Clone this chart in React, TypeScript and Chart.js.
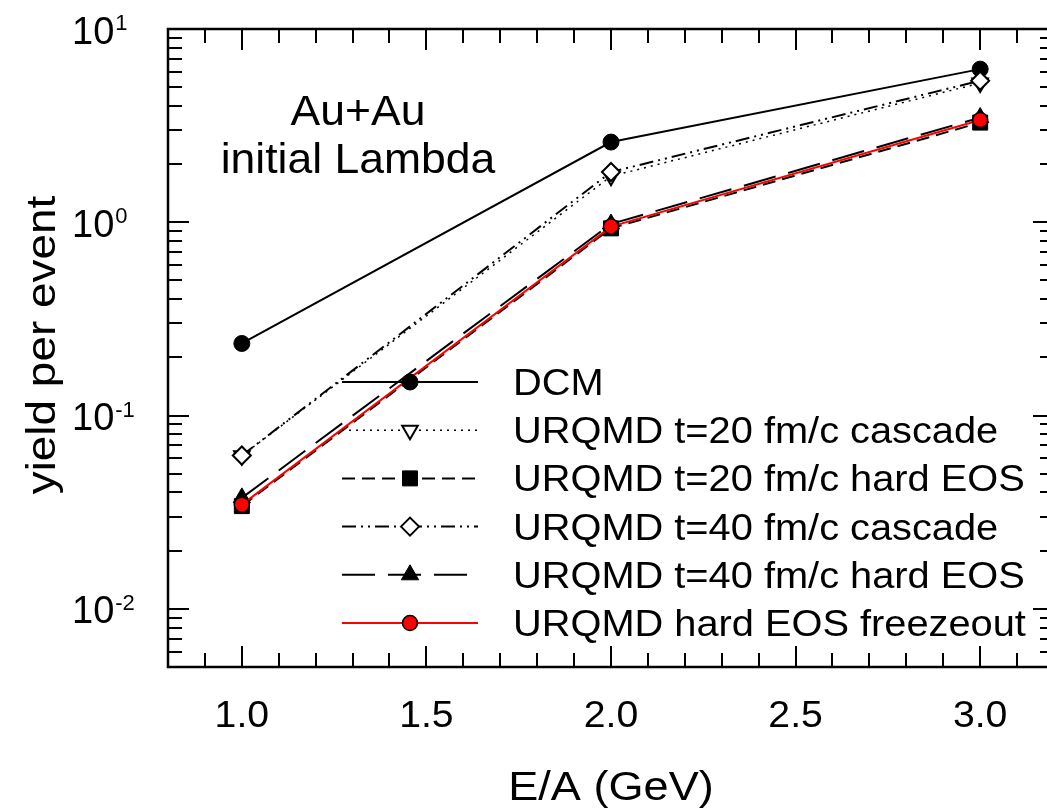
import React, { useEffect, useRef } from 'react';
import { Chart, registerables } from 'chart.js';

Chart.register(...registerables);

// ---- data ----
const energies = [1.0, 2.0, 3.0];
const dcm = [0.236, 2.6, 6.2];
const urqmd20Cascade = [0.062, 1.73, 5.25];
const urqmd20Hard = [0.034, 0.93, 3.28];
const urqmd40Cascade = [0.0621, 1.82, 5.4];
const urqmd40Hard = [0.0375, 0.98, 3.48];
const urqmdFreezeout = [0.0346, 0.95, 3.38];

const seriesNames = [
  'DCM',
  'URQMD t=20 fm/c cascade',
  'URQMD t=20 fm/c hard EOS',
  'URQMD t=40 fm/c cascade',
  'URQMD t=40 fm/c hard EOS',
  'URQMD hard EOS freezeout',
];
const xTickValues = [1.0, 1.5, 2.0, 2.5, 3.0];
const xTickLabels = ['1.0', '1.5', '2.0', '2.5', '3.0'];
const yTickExponents = [1, 0, -1, -2];
const xTitle = 'E/A (GeV)';
const yTitle = 'yield per event';
const annotationLines = ['Au+Au', 'initial Lambda'];

const FONT = '"Liberation Sans", Arial, Helvetica, sans-serif';

const CANVAS_W = 1070;
const CANVAS_H = 812;

function drawMarker(
  ctx: CanvasRenderingContext2D,
  style: string,
  x: number,
  y: number,
  r: number,
  rotation: number,
  fill: string,
  stroke: string,
  bw: number
) {
  ctx.save();
  ctx.setLineDash([]);
  ctx.lineWidth = bw;
  ctx.fillStyle = fill;
  ctx.strokeStyle = stroke;
  ctx.beginPath();
  if (style === 'circle') {
    ctx.arc(x, y, r, 0, Math.PI * 2);
  } else if (style === 'rect') {
    const s = r * Math.SQRT1_2;
    ctx.rect(x - s, y - s, 2 * s, 2 * s);
  } else if (style === 'rectRot') {
    ctx.moveTo(x - r, y);
    ctx.lineTo(x, y - r);
    ctx.lineTo(x + r, y);
    ctx.lineTo(x, y + r);
    ctx.closePath();
  } else if (style === 'triangle') {
    let rad = (rotation * Math.PI) / 180;
    ctx.moveTo(x + Math.sin(rad) * r, y - Math.cos(rad) * r);
    rad += (2 * Math.PI) / 3;
    ctx.lineTo(x + Math.sin(rad) * r, y - Math.cos(rad) * r);
    rad += (2 * Math.PI) / 3;
    ctx.lineTo(x + Math.sin(rad) * r, y - Math.cos(rad) * r);
    ctx.closePath();
  }
  ctx.fill();
  ctx.stroke();
  ctx.restore();
}

// draw text stretched horizontally by sx (anchor x according to align)
function stretchedText(
  ctx: CanvasRenderingContext2D,
  text: string,
  x: number,
  y: number,
  sx: number,
  align: CanvasTextAlign
) {
  ctx.save();
  ctx.translate(x, y);
  ctx.scale(sx, 1);
  ctx.textAlign = align;
  ctx.fillText(text, 0, 0);
  ctx.restore();
}

const decorPlugin = {
  id: 'decor',
  afterDraw(chart: any) {
    const ctx: CanvasRenderingContext2D = chart.ctx;
    const xs = chart.scales.x;
    const ys = chart.scales.y;
    const area = chart.chartArea;
    ctx.save();
    ctx.setLineDash([]);
    ctx.strokeStyle = '#000';
    ctx.fillStyle = '#000';
    ctx.textBaseline = 'alphabetic';

    // frame
    ctx.lineWidth = 2.5;
    ctx.strokeRect(area.left, area.top, area.right - area.left, area.bottom - area.top);

    // x ticks (minor every 0.1, major every 0.5), bottom & top, inward
    ctx.lineWidth = 2;
    for (let i = 8; i <= 32; i++) {
      const v = i / 10;
      const px = Math.round(xs.getPixelForValue(v));
      const major = i % 5 === 0;
      const len = major ? 21 : 14;
      ctx.beginPath();
      ctx.moveTo(px, area.bottom);
      ctx.lineTo(px, area.bottom - len);
      ctx.moveTo(px, area.top);
      ctx.lineTo(px, area.top + len);
      ctx.stroke();
    }
    // y ticks (log), left & right, inward
    for (let e = -3; e <= 1; e++) {
      for (let m = 1; m <= 9; m++) {
        const v = m * Math.pow(10, e);
        if (v < ys.min * 0.999 || v > ys.max * 1.001) continue;
        const py = Math.round(ys.getPixelForValue(v));
        const len = m === 1 ? 21 : 14;
        ctx.beginPath();
        ctx.moveTo(area.left, py);
        ctx.lineTo(area.left + len, py);
        ctx.moveTo(area.right, py);
        ctx.lineTo(area.right - len, py);
        ctx.stroke();
      }
    }

    // x tick labels
    ctx.font = `37px ${FONT}`;
    xTickValues.forEach((v, i) => {
      stretchedText(ctx, xTickLabels[i], xs.getPixelForValue(v), 727, 1.06, 'center');
    });

    // y tick labels 10^e
    yTickExponents.forEach((e) => {
      const py = ys.getPixelForValue(Math.pow(10, e));
      ctx.font = `38px ${FONT}`;
      ctx.textAlign = 'left';
      ctx.fillText('10', 72, py + 14.5);
      const w = ctx.measureText('10').width;
      ctx.font = `22px ${FONT}`;
      ctx.fillText(String(e), 72 + w + 1, py + 1);
    });

    // axis titles
    ctx.font = `41px ${FONT}`;
    stretchedText(ctx, xTitle, xs.getPixelForValue(2.0), 800, 1.1, 'center');
    ctx.save();
    ctx.translate(55, 345);
    ctx.rotate(-Math.PI / 2);
    ctx.scale(1.12, 1);
    ctx.textAlign = 'center';
    ctx.fillText(yTitle, 0, 0);
    ctx.restore();

    // annotation
    ctx.font = `42px ${FONT}`;
    stretchedText(ctx, annotationLines[0], 358, 125, 1.06, 'center');
    stretchedText(ctx, annotationLines[1], 358, 173, 1.06, 'center');

    // legend
    const order = [0, 1, 2, 3, 4, 5];
    order.forEach((di, row) => {
      const ds = chart.data.datasets[di];
      const cy = 382 + row * 48.2;
      ctx.save();
      ctx.strokeStyle = ds.borderColor;
      ctx.lineWidth = ds.borderWidth;
      ctx.setLineDash(ds.borderDash || []);
      ctx.beginPath();
      ctx.moveTo(342, cy);
      ctx.lineTo(478, cy);
      ctx.stroke();
      ctx.restore();
      drawMarker(
        ctx,
        ds.pointStyle,
        410,
        cy,
        ds.pointRadius,
        ds.pointRotation || 0,
        ds.pointBackgroundColor,
        ds.pointBorderColor,
        ds.pointBorderWidth
      );
      ctx.font = `36px ${FONT}`;
      ctx.fillStyle = '#000';
      stretchedText(ctx, seriesNames[di], 513, cy + 13, 1.105, 'left');
    });

    ctx.restore();
  },
};

function toPoints(vals: number[]) {
  return energies.map((x, i) => ({ x, y: vals[i] }));
}

export default function App() {
  const canvasRef = useRef<HTMLCanvasElement | null>(null);

  useEffect(() => {
    const canvas = canvasRef.current;
    if (!canvas) return;
    const chart = new Chart(canvas, {
      type: 'line',
      data: {
        datasets: [
          {
            label: seriesNames[0],
            data: toPoints(dcm),
            borderColor: '#000',
            borderWidth: 2,
            borderDash: [],
            pointStyle: 'circle',
            pointRadius: 8,
            pointRotation: 0,
            pointBackgroundColor: '#000',
            pointBorderColor: '#000',
            pointBorderWidth: 1,
            order: 5,
          },
          {
            label: seriesNames[1],
            data: toPoints(urqmd20Cascade),
            borderColor: '#000',
            borderWidth: 1.5,
            borderDash: [2, 5],
            pointStyle: 'triangle',
            pointRadius: 9,
            pointRotation: 180,
            pointBackgroundColor: '#fff',
            pointBorderColor: '#000',
            pointBorderWidth: 2,
            order: 4,
          },
          {
            label: seriesNames[2],
            data: toPoints(urqmd20Hard),
            borderColor: '#000',
            borderWidth: 2,
            borderDash: [13, 7],
            pointStyle: 'rect',
            pointRadius: 10.6,
            pointRotation: 0,
            pointBackgroundColor: '#000',
            pointBorderColor: '#000',
            pointBorderWidth: 1,
            order: 3,
          },
          {
            label: seriesNames[3],
            data: toPoints(urqmd40Cascade),
            borderColor: '#000',
            borderWidth: 2,
            borderDash: [14, 5, 2, 5, 2, 5],
            pointStyle: 'rectRot',
            pointRadius: 9,
            pointRotation: 0,
            pointBackgroundColor: '#fff',
            pointBorderColor: '#000',
            pointBorderWidth: 2,
            order: 2,
          },
          {
            label: seriesNames[4],
            data: toPoints(urqmd40Hard),
            borderColor: '#000',
            borderWidth: 2,
            borderDash: [33, 13],
            pointStyle: 'triangle',
            pointRadius: 10,
            pointRotation: 0,
            pointBackgroundColor: '#000',
            pointBorderColor: '#000',
            pointBorderWidth: 1,
            order: 1,
          },
          {
            label: seriesNames[5],
            data: toPoints(urqmdFreezeout),
            borderColor: '#ff0000',
            borderWidth: 2,
            borderDash: [],
            pointStyle: 'circle',
            pointRadius: 7.5,
            pointRotation: 0,
            pointBackgroundColor: '#ff0000',
            pointBorderColor: '#000',
            pointBorderWidth: 1.5,
            order: 0,
          },
        ],
      },
      options: {
        responsive: false,
        animation: false,
        events: [],
        devicePixelRatio: 1,
        layout: {
          padding: { left: 168, top: 29, right: CANVAS_W - 1054, bottom: CANVAS_H - 667 },
        },
        plugins: {
          legend: { display: false },
          tooltip: { enabled: false },
        },
        scales: {
          x: { type: 'linear', min: 0.8, max: 3.2, display: false },
          y: { type: 'logarithmic', min: 0.005, max: 10, display: false },
        },
      },
      plugins: [decorPlugin],
    });
    return () => chart.destroy();
  }, []);

  return (
    <div
      style={{
        position: 'fixed',
        left: 0,
        top: 0,
        width: 1047,
        height: 812,
        overflow: 'hidden',
        background: '#fff',
      }}
    >
      <canvas ref={canvasRef} width={CANVAS_W} height={CANVAS_H} style={{ display: 'block' }} />
    </div>
  );
}
